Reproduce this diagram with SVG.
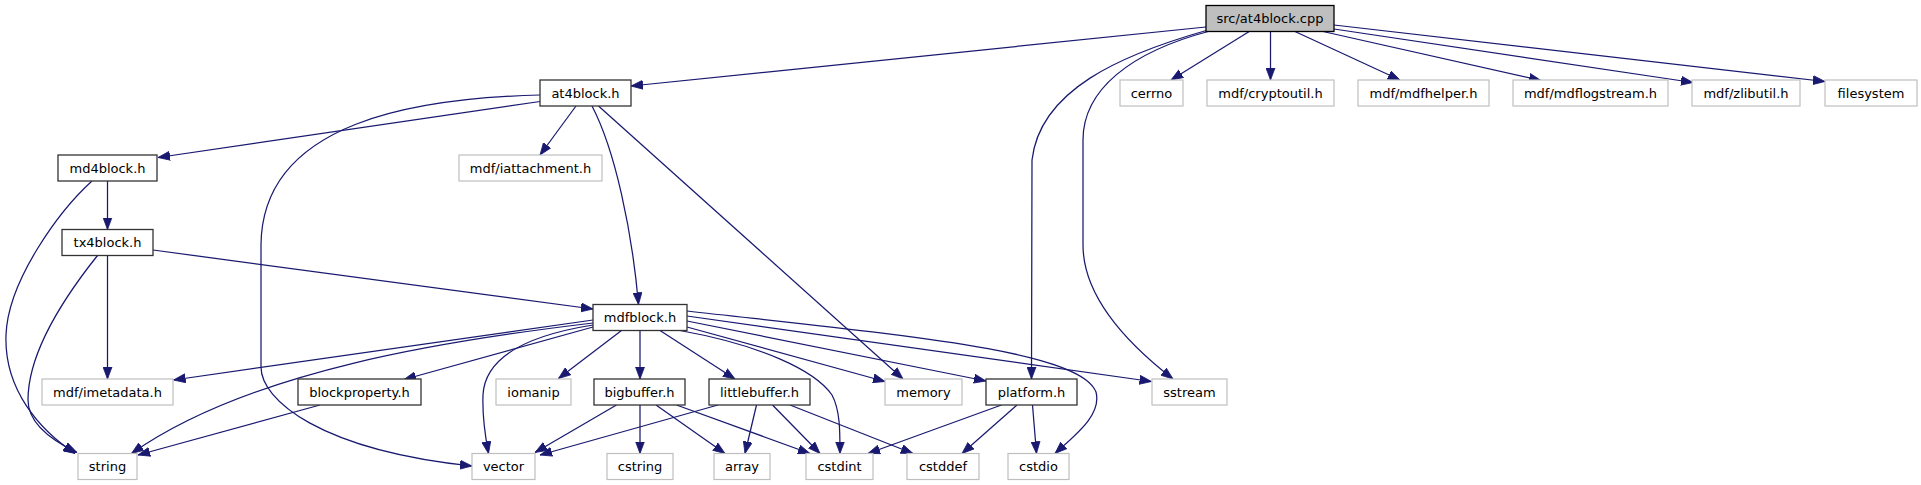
<svg xmlns="http://www.w3.org/2000/svg" width="1921" height="485" viewBox="0 0 1921 485">
<style>
  .n rect { fill: #ffffff; stroke: #333333; stroke-width: 1.3; }
  .x rect { fill: #ffffff; stroke: #bfbfbf; stroke-width: 1.2; }
  .r rect { fill: #bfbfbf; stroke: #000000; stroke-width: 1.3; }
  text { font-family: "DejaVu Sans", "Liberation Sans", sans-serif; font-size: 13px; fill: #000000; text-anchor: middle; }
  #edges path { fill: none; stroke: #191970; stroke-width: 1.25; marker-end: url(#ah); }
</style>
<defs>
  <marker id="ah" viewBox="0 0 12 10" refX="12" refY="5" markerWidth="12" markerHeight="10" markerUnits="userSpaceOnUse" orient="auto">
    <path d="M0,0.5 L12,5 L0,9.5 z" fill="#191970" stroke="#191970" stroke-width="0.8"/>
  </marker>
</defs>
<rect x="0" y="0" width="1921" height="485" fill="#ffffff"/>

<g id="edges">
  <path d="M1206,27 L631,86"/>
  <path d="M1208,30 C1120,55 1040,90 1032,160 L1031.5,379"/>
  <path d="M1210,31 C1130,52 1083,90 1083,140 L1083,245 C1083,285 1110,330 1173,379"/>
  <path d="M1250,31 L1171,80"/>
  <path d="M1270.5,31.5 L1270.5,80"/>
  <path d="M1295,31.5 L1400,80"/>
  <path d="M1323,31.5 L1541,80.5"/>
  <path d="M1334,29 L1693,82.5"/>
  <path d="M1334,25 L1825,81.5"/>

  <path d="M540,101.5 L158,157.5"/>
  <path d="M540,95 C420,98 262,120 261,245 L261,367 C261,400 320,450 472,466"/>
  <path d="M576,106 L540,155"/>
  <path d="M592,106 C615,150 632,230 638.5,304.5"/>
  <path d="M598.5,106 L903,379"/>

  <path d="M107.5,181 L107.5,229.5"/>
  <path d="M92,181 C60,210 8,280 6,335 C4,390 40,430 75,453.5"/>

  <path d="M107.5,255.5 L107.5,379"/>
  <path d="M97.5,255.5 C70,290 28,350 28,400 C28,425 55,442 77,452.5"/>
  <path d="M153,250 L593,309"/>

  <path d="M593,320 L173.5,380"/>
  <path d="M593,323 C450,340 250,370 131.5,453.5"/>
  <path d="M593,327 L404,379.5"/>
  <path d="M593,325 C530,335 485,355 483,395 C482,420 486,440 488.5,453.5"/>
  <path d="M621.5,330.5 L558.5,378.5"/>
  <path d="M640,330.5 L640,379"/>
  <path d="M660,330.5 L735,379"/>
  <path d="M687,327 L885,381.5"/>
  <path d="M687,321 L986,381"/>
  <path d="M687,316 L1151.5,381.5"/>
  <path d="M680,330.5 C760,345 815,370 832,395 C840,410 840,430 840,453.5"/>
  <path d="M687,311 C900,335 1080,350 1096,392 C1102,415 1075,435 1055,453.5"/>

  <path d="M320,405 L138,455"/>

  <path d="M616.5,405 L535,452.5"/>
  <path d="M640,405 L640,453.5"/>
  <path d="M656,405 L725,453.5"/>
  <path d="M676.5,405 L810,453.5"/>

  <path d="M718,405 L540,455"/>
  <path d="M756.5,405 L745,453.5"/>
  <path d="M772.5,405 L820,453.5"/>
  <path d="M790,405 L913,453.5"/>

  <path d="M1001.5,405 L868,453.5"/>
  <path d="M1017,405 L962,453.5"/>
  <path d="M1032.5,405 L1036.5,453.5"/>
</g>

<g id="node-src-at4block-cpp" class="r"><rect x="1206" y="5.5" width="128" height="26"/><text x="1270" y="23">src/at4block.cpp</text></g>
<g id="node-at4block-h" class="n"><rect x="540" y="80" width="91" height="26"/><text x="585.5" y="97.5">at4block.h</text></g>
<g id="node-cerrno" class="x"><rect x="1120" y="80" width="63" height="26"/><text x="1151.5" y="97.5">cerrno</text></g>
<g id="node-cryptoutil" class="x"><rect x="1207" y="80" width="127" height="26"/><text x="1270.5" y="97.5">mdf/cryptoutil.h</text></g>
<g id="node-mdfhelper" class="x"><rect x="1358" y="80" width="131" height="26"/><text x="1423.5" y="97.5">mdf/mdfhelper.h</text></g>
<g id="node-mdflogstream" class="x"><rect x="1513" y="80" width="155" height="26"/><text x="1590.5" y="97.5">mdf/mdflogstream.h</text></g>
<g id="node-zlibutil" class="x"><rect x="1692" y="80" width="108" height="26"/><text x="1746" y="97.5">mdf/zlibutil.h</text></g>
<g id="node-filesystem" class="x"><rect x="1825" y="80" width="92" height="26"/><text x="1871" y="97.5">filesystem</text></g>

<g id="node-md4block-h" class="n"><rect x="58" y="155" width="99" height="26"/><text x="107.5" y="172.5">md4block.h</text></g>
<g id="node-iattachment" class="x"><rect x="459" y="155" width="143" height="26"/><text x="530.5" y="172.5">mdf/iattachment.h</text></g>

<g id="node-tx4block-h" class="n"><rect x="62" y="229.5" width="91" height="26"/><text x="107.5" y="247">tx4block.h</text></g>

<g id="node-mdfblock-h" class="n"><rect x="593" y="304.5" width="94" height="26"/><text x="640" y="321.5">mdfblock.h</text></g>

<g id="node-imetadata" class="x"><rect x="42" y="379" width="131" height="26"/><text x="107.5" y="396.5">mdf/imetadata.h</text></g>
<g id="node-blockproperty-h" class="n"><rect x="298" y="379" width="123" height="26"/><text x="359.5" y="396.5">blockproperty.h</text></g>
<g id="node-iomanip" class="x"><rect x="496" y="379" width="75" height="26"/><text x="533.5" y="396.5">iomanip</text></g>
<g id="node-bigbuffer-h" class="n"><rect x="594" y="379" width="91" height="26"/><text x="639.5" y="396.5">bigbuffer.h</text></g>
<g id="node-littlebuffer-h" class="n"><rect x="709" y="379" width="101" height="26"/><text x="759.5" y="396.5">littlebuffer.h</text></g>
<g id="node-memory" class="x"><rect x="885" y="379" width="77" height="26"/><text x="923.5" y="396.5">memory</text></g>
<g id="node-platform-h" class="n"><rect x="986" y="379" width="91" height="26"/><text x="1031.5" y="396.5">platform.h</text></g>
<g id="node-sstream" class="x"><rect x="1152" y="379" width="75" height="26"/><text x="1189.5" y="396.5">sstream</text></g>

<g id="node-string" class="x"><rect x="78" y="453.5" width="59" height="26"/><text x="107.5" y="471">string</text></g>
<g id="node-vector" class="x"><rect x="472" y="453.5" width="63" height="26"/><text x="503.5" y="471">vector</text></g>
<g id="node-cstring" class="x"><rect x="607" y="453.5" width="66" height="26"/><text x="640" y="471">cstring</text></g>
<g id="node-array" class="x"><rect x="714" y="453.5" width="56" height="26"/><text x="742" y="471">array</text></g>
<g id="node-cstdint" class="x"><rect x="806" y="453.5" width="67" height="26"/><text x="839.5" y="471">cstdint</text></g>
<g id="node-cstddef" class="x"><rect x="907" y="453.5" width="72" height="26"/><text x="943" y="471">cstddef</text></g>
<g id="node-cstdio" class="x"><rect x="1008" y="453.5" width="61" height="26"/><text x="1038.5" y="471">cstdio</text></g>
</svg>
